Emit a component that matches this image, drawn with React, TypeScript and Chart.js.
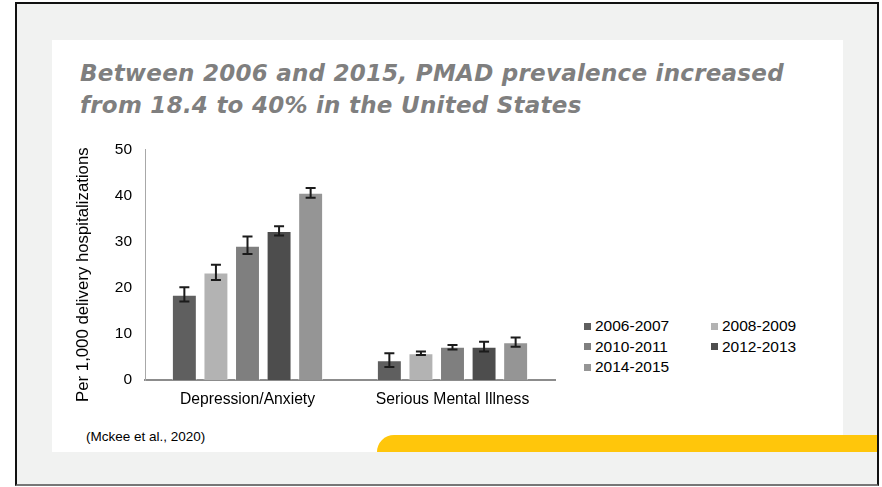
import React, { useEffect, useRef } from 'react';
import { Chart, registerables } from 'chart.js';

Chart.register(...registerables);

const categories = ['Depression/Anxiety', 'Serious Mental Illness'];
const periods = ['2006-2007', '2008-2009', '2010-2011', '2012-2013', '2014-2015'];
const barColors = ['#5f5f5f', '#b3b3b3', '#7f7f7f', '#4d4d4d', '#959595'];

// per 1,000 delivery hospitalizations: [Depression/Anxiety, Serious Mental Illness]
const rates2006 = [18.5, 4.3];
const rates2008 = [23.3, 5.8];
const rates2010 = [29.1, 7.2];
const rates2012 = [32.3, 7.2];
const rates2014 = [40.6, 8.2];

// confidence interval ends
const low2006 = [17.0, 2.8];
const low2008 = [21.7, 5.4];
const low2010 = [27.3, 6.6];
const low2012 = [31.3, 6.2];
const low2014 = [39.5, 7.2];

const high2006 = [20.1, 5.8];
const high2008 = [25.0, 6.2];
const high2010 = [31.1, 7.6];
const high2012 = [33.3, 8.3];
const high2014 = [41.6, 9.2];

const yMax = 50;
const yStep = 10;

const rates = [rates2006, rates2008, rates2010, rates2012, rates2014];
const lows = [low2006, low2008, low2010, low2012, low2014];
const highs = [high2006, high2008, high2010, high2012, high2014];

const yTitle = 'Per 1,000 delivery hospitalizations';

const errorBars = {
  id: 'errorBars',
  afterDatasetsDraw(chart: any) {
    const { ctx } = chart;
    const y = chart.scales.y;
    ctx.save();
    ctx.strokeStyle = '#1b1b1b';
    ctx.lineWidth = 2;
    chart.data.datasets.forEach((_ds: any, i: number) => {
      const meta = chart.getDatasetMeta(i);
      meta.data.forEach((bar: any, j: number) => {
        const x = bar.x;
        const top = y.getPixelForValue(highs[i][j]);
        const bottom = y.getPixelForValue(lows[i][j]);
        ctx.beginPath();
        ctx.moveTo(x, top);
        ctx.lineTo(x, bottom);
        ctx.moveTo(x - 5, top);
        ctx.lineTo(x + 5, top);
        ctx.moveTo(x - 5, bottom);
        ctx.lineTo(x + 5, bottom);
        ctx.stroke();
      });
    });
    ctx.restore();
  },
};

// axis title drawn by hand so it can sit a little below the axis middle
const sideTitle = {
  id: 'sideTitle',
  afterDraw(chart: any) {
    const { ctx, chartArea } = chart;
    ctx.save();
    ctx.translate(chartArea.left - 62, (chartArea.top + chartArea.bottom) / 2 + 10);
    ctx.rotate(-Math.PI / 2);
    ctx.font = '16.8px Arial, "Liberation Sans", sans-serif';
    ctx.fillStyle = '#000';
    ctx.textAlign = 'center';
    ctx.textBaseline = 'middle';
    ctx.fillText(yTitle, 0, 0);
    ctx.restore();
  },
};

const PmadChart: React.FC = () => {
  const chartRef = useRef<HTMLCanvasElement>(null);

  useEffect(() => {
    if (!chartRef.current) return;
    const ctx = chartRef.current.getContext('2d');
    if (!ctx) return;

    const chart = new Chart(ctx, {
      type: 'bar',
      data: {
        labels: categories,
        datasets: periods.map((p, i) => ({
          label: p,
          data: rates[i],
          backgroundColor: barColors[i],
          borderColor: 'rgba(255,255,255,0.45)',
          borderWidth: 1,
          categoryPercentage: 0.77,
          barPercentage: 0.79,
        })),
      },
      options: {
        responsive: true,
        maintainAspectRatio: false,
        animation: false,
        layout: { padding: { left: 0, top: 6, right: 15, bottom: 0 } },
        plugins: {
          legend: { display: false },
          tooltip: { enabled: false },
        },
        scales: {
          x: {
            grid: { display: false, drawTicks: false },
            border: { color: '#8c8c8c', width: 2 },
            ticks: {
              color: '#000',
              padding: 10,
              font: { family: 'Arial, "Liberation Sans", sans-serif', size: 15.7 },
            },
            afterFit: (axis: any) => {
              axis.height = 40;
            },
          },
          y: {
            min: 0,
            max: yMax,
            grid: { display: false, drawTicks: false },
            border: { color: '#a8a8a8', width: 1 },
            ticks: {
              stepSize: yStep,
              color: '#000',
              padding: 13,
              font: { family: 'Arial, "Liberation Sans", sans-serif', size: 15.5 },
            },
            afterFit: (axis: any) => {
              axis.width = 85;
            },
          },
        },
      },
      plugins: [errorBars, sideTitle],
    });

    return () => {
      chart.destroy();
    };
  }, []);

  return <canvas ref={chartRef}></canvas>;
};

const Legend: React.FC = () => (
  <div
    style={{
      position: 'absolute',
      left: 584,
      top: 316,
      display: 'grid',
      gridTemplateColumns: '127px 100px',
      rowGap: 0,
      fontSize: 15.5,
      lineHeight: '20.5px',
      color: '#000',
    }}
  >
    {periods.map((p, i) => (
      <div key={p} style={{ display: 'flex', alignItems: 'center', whiteSpace: 'nowrap' }}>
        <span
          style={{
            display: 'inline-block',
            width: 7,
            height: 7,
            background: barColors[i],
            marginRight: 4,
          }}
        />
        {p}
      </div>
    ))}
  </div>
);

export default function App() {
  return (
    <div
      style={{
        position: 'fixed',
        left: 0,
        top: 0,
        width: 882,
        height: 487,
        background: '#fff',
        overflow: 'hidden',
        fontFamily: 'Arial, "Liberation Sans", sans-serif',
      }}
    >
      <div
        style={{
          position: 'absolute',
          left: 15,
          top: 2,
          width: 864,
          height: 484,
          boxSizing: 'border-box',
          border: '2px solid #111',
          borderBottomColor: '#777',
          background: '#f1f2f1',
        }}
      />
      <div style={{ position: 'absolute', left: 52, top: 40, width: 791, height: 412, background: '#fff' }} />
      <div
        style={{
          position: 'absolute',
          left: 377,
          top: 435,
          width: 500,
          height: 17,
          background: '#ffc60b',
          borderTopLeftRadius: 18,
        }}
      />
      <div
        style={{
          position: 'absolute',
          left: 80,
          top: 57,
          width: 760,
          fontFamily: '"DejaVu Sans", Verdana, sans-serif',
          fontWeight: 'bold',
          fontStyle: 'italic',
          fontSize: 23,
          letterSpacing: 0.25,
          lineHeight: '32px',
          color: '#7f7f7f',
          whiteSpace: 'nowrap',
        }}
      >
        Between 2006 and 2015, PMAD prevalence increased
        <br />
        from 18.4 to 40% in the United States
      </div>
      <div style={{ position: 'absolute', left: 60, top: 127, width: 510, height: 293 }}>
        <PmadChart />
      </div>
      <Legend />
      <div style={{ position: 'absolute', left: 86, top: 429, fontSize: 13.5, color: '#000' }}>
        (Mckee et al., 2020)
      </div>
    </div>
  );
}
